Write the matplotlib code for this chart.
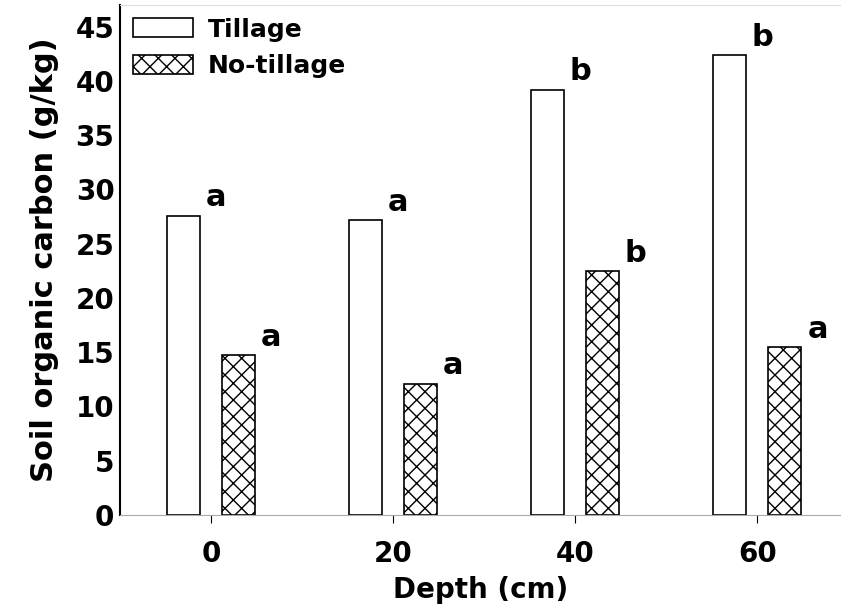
import numpy as np
import matplotlib
matplotlib.use('Agg')
import matplotlib.pyplot as plt

# daten
depths = ['0', '20', '40', '60']
series_a = [27.6, 27.2, 39.2, 42.4]
series_b = [14.7, 12.1, 22.5, 15.5]
letters_a = ['a', 'a', 'b', 'b']
letters_b = ['a', 'a', 'b', 'a']
legend_labels = ['Tillage', 'No-tillage']
yticks = [0, 5, 10, 15, 20, 25, 30, 35, 40, 45]

plt.rcParams['font.family'] = 'DejaVu Sans'
plt.rcParams['hatch.linewidth'] = 1.0

fig = plt.figure(figsize=(8.41, 6.11), dpi=100)
ax = fig.add_axes([120/841, 96/611, 721/841, 510/611])

x = np.arange(len(depths))
w = 0.181
off = 0.151
ax.bar(x - off, series_a, w, color='white', edgecolor='black', linewidth=1.2, label=legend_labels[0])
ax.bar(x + off, series_b, w, color='white', edgecolor='black', linewidth=1.2, hatch='xx', label=legend_labels[1])

# signifikanz buchstaben, etwas rechts neben der balkenmitte
for i in range(len(depths)):
    ax.text(x[i] - off + 0.18, series_a[i] + 0.3, letters_a[i], ha='center', va='bottom',
            fontsize=22, fontweight='bold')
    ax.text(x[i] + off + 0.18, series_b[i] + 0.3, letters_b[i], ha='center', va='bottom',
            fontsize=22, fontweight='bold')

ax.set_xlim(-0.5, 3.46)
ax.set_ylim(0, 47)
ax.set_xticks(x)
ax.set_xticklabels(depths, fontsize=20, fontweight='bold')
ax.set_yticks(yticks)
ax.set_yticklabels([str(t) for t in yticks], fontsize=20, fontweight='bold')
ax.tick_params(axis='x', direction='out', length=6, pad=12)
ax.tick_params(axis='y', length=0, pad=4)

ax.spines['left'].set_color('black')
ax.spines['left'].set_linewidth(1.5)
ax.spines['bottom'].set_color('#aaaaaa')
ax.spines['top'].set_color('#dddddd')
ax.spines['right'].set_visible(False)

ax.set_xlabel('Depth (cm)', fontsize=20, fontweight='bold', labelpad=6)
ax.set_ylabel('Soil organic carbon (g/kg)', fontsize=22, fontweight='bold', labelpad=12)

ax.legend(loc='upper left', bbox_to_anchor=(0.0, 1.0), frameon=False,
          handlelength=2.4, handleheight=0.8, labelspacing=0.5, borderaxespad=0.2,
          borderpad=0.3, handletextpad=0.6, prop={'weight': 'bold', 'size': 18})

fig.savefig('out.png', dpi=100)
